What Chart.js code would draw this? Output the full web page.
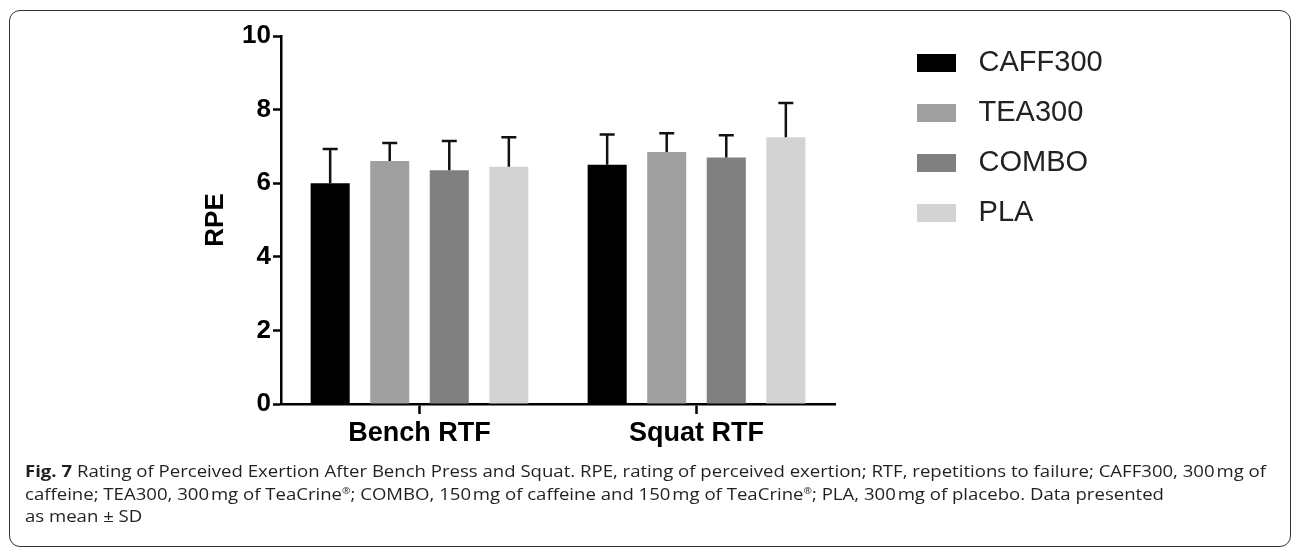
<!DOCTYPE html>
<html>
<head>
<meta charset="utf-8">
<script src="https://cdn.jsdelivr.net/npm/chart.js@4.4.1/dist/chart.umd.min.js"></script>
<style>
  body { margin: 0; background: #fff; width: 1293px; height: 548px; overflow: hidden; position: relative; }
  #frame { position: absolute; left: 9px; top: 10px; width: 1282px; height: 537px; box-sizing: border-box;
           border: 1.5px solid #333; border-radius: 11px; }
  #wrap { position: absolute; left: 0; top: 0; width: 1293px; height: 460px; }
  #caption { position: absolute; left: 25px; top: 460px; font-family: "Open Sans", sans-serif; font-size: 16.5px;
             line-height: 22.5px; color: #231f20; white-space: nowrap; }
  #caption div { transform-origin: left center; }
</style>
</head>
<body>
<div id="frame"></div>
<div id="wrap"><canvas id="chartOne"></canvas></div>
<div id="caption">
  <div id="l1"><b>Fig. 7</b> Rating of Perceived Exertion After Bench Press and Squat. RPE, rating of perceived exertion; RTF, repetitions to failure; CAFF300, 300&#8202;mg of</div>
  <div id="l2">caffeine; TEA300, 300&#8202;mg of TeaCrine<sup style="font-size:9px;line-height:0">®</sup>; COMBO, 150&#8202;mg of caffeine and 150&#8202;mg of TeaCrine<sup style="font-size:9px;line-height:0">®</sup>; PLA, 300&#8202;mg of placebo. Data presented</div>
  <div id="l3">as mean ± SD</div>
</div>
<script>
// data (mean and SD of RPE)
var categories = ['Bench RTF', 'Squat RTF'];
var groups = ['CAFF300', 'TEA300', 'COMBO', 'PLA'];
var caff300 = [6.0, 6.5];
var tea300 = [6.6, 6.85];
var combo = [6.35, 6.7];
var pla = [6.45, 7.25];
var caff300Sd = [0.93, 0.82];
var tea300Sd = [0.49, 0.51];
var comboSd = [0.8, 0.6];
var plaSd = [0.8, 0.93];
var yTicks = [0, 2, 4, 6, 8, 10];

var colors = ['#000000', '#a0a0a0', '#808080', '#d3d3d3'];
var means = [caff300, tea300, combo, pla];
var sds = [caff300Sd, tea300Sd, comboSd, plaSd];

// upward-only error bars with a cap
var errorBars = {
    id: 'errorBars',
    afterDatasetsDraw: (chart) => {
        var ctx = chart.ctx;
        var yScale = chart.scales.y;
        ctx.save();
        ctx.strokeStyle = '#111';
        ctx.lineWidth = 2.5;
        chart.data.datasets.forEach((ds, i) => {
            var meta = chart.getDatasetMeta(i);
            meta.data.forEach((bar, j) => {
                var top = yScale.getPixelForValue(ds.data[j] + ds.sd[j]);
                ctx.beginPath();
                ctx.moveTo(bar.x, bar.y);
                ctx.lineTo(bar.x, top);
                ctx.moveTo(bar.x - 7.5, top);
                ctx.lineTo(bar.x + 7.5, top);
                ctx.stroke();
            });
        });
        ctx.restore();
    }
};

// put the legend where the figure has it (right of the plot)
var legendPlace = {
    id: 'legendPlace',
    afterLayout: (chart) => {
        var lg = chart.legend;
        var h = lg.bottom - lg.top;
        var w = lg.right - lg.left;
        lg.left = 896; lg.right = 896 + w;
        lg.top = 27.5; lg.bottom = 27.5 + h;
    }
};

var datasets = groups.map((g, i) => ({
    label: g,
    data: means[i],
    sd: sds[i],
    backgroundColor: colors[i],
    borderWidth: 0,
    barPercentage: 0.656,
    categoryPercentage: 0.86
}));

var chartOne = document.getElementById('chartOne');
var myChart = new Chart(chartOne, {
    type: 'bar',
    data: { labels: categories, datasets: datasets },
    options: {
        responsive: true,
        maintainAspectRatio: false,
        animation: false,
        layout: { padding: { left: 196, top: 36, right: 458, bottom: 6 } },
        plugins: {
            tooltip: { enabled: false },
            legend: {
                position: 'chartArea',
                align: 'start',
                labels: {
                    boxWidth: 39,
                    boxHeight: 18,
                    padding: 21,
                    color: '#222',
                    font: { family: 'Liberation Sans, Arial, sans-serif', size: 29 },
                    generateLabels: (chart) => {
                        var items = Chart.defaults.plugins.legend.labels.generateLabels(chart);
                        items.forEach((it) => { it.text = ' ' + it.text; it.lineWidth = 0; });
                        return items;
                    }
                }
            }
        },
        scales: {
            x: {
                afterFit: (scale) => { scale.height = 50; },
                border: { color: '#000', width: 2.5 },
                grid: { display: true, offset: false, drawOnChartArea: false, tickLength: 10, tickWidth: 2.5, tickColor: '#000' },
                ticks: { color: '#000', padding: 3, font: { family: 'Liberation Sans, Arial, sans-serif', size: 27, weight: 'bold' } }
            },
            y: {
                min: 0,
                max: 10,
                afterFit: (scale) => { scale.width = 85; },
                afterBuildTicks: (scale) => { scale.ticks = yTicks.map((v) => ({ value: v })); },
                border: { color: '#000', width: 2.5 },
                grid: { display: true, drawOnChartArea: false, tickLength: 8, tickWidth: 2.5, tickColor: '#000' },
                ticks: { color: '#000', padding: 2, font: { family: 'Liberation Sans, Arial, sans-serif', size: 26, weight: 'bold' } },
                title: {
                    display: true,
                    text: 'RPE',
                    color: '#000',
                    font: { family: 'Liberation Sans, Arial, sans-serif', size: 26, weight: 'bold' }
                }
            }
        }
    },
    plugins: [errorBars, legendPlace]
});

// stretch the caption lines to the widths they have in the figure
var fitLine = (id, target) => {
    var el = document.getElementById(id);
    el.style.display = 'inline-block';
    var w = el.getBoundingClientRect().width;
    el.style.display = 'block';
    var s = target / w;
    el.style.transform = 'scaleX(' + s + ')';
    return s;
};
var s1 = fitLine('l1', 1241);
fitLine('l2', 1139);
document.getElementById('l3').style.transform = 'scaleX(' + s1 + ')';
</script>
</body>
</html>
